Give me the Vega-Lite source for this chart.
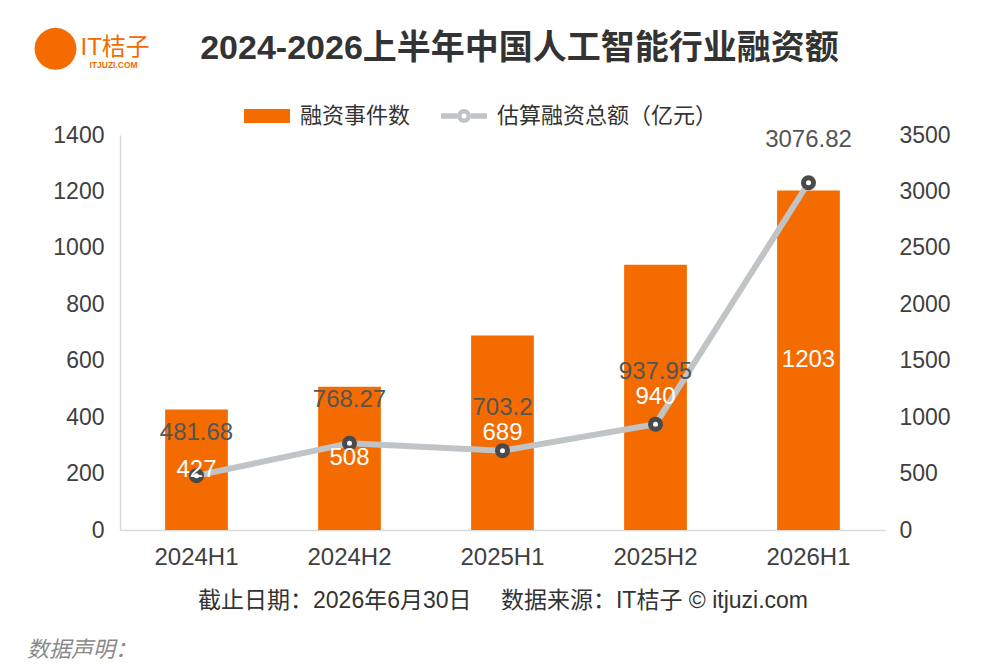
{
  "$schema": "https://vega.github.io/schema/vega-lite/v6.json",
  "autosize": "none",
  "width": 765,
  "height": 395,
  "padding": {"left": 120, "top": 135, "right": 122, "bottom": 137},
  "background": "white",
  "config": {
    "font": "Liberation Sans, Noto Sans CJK SC",
    "view": {"stroke": null},
    "axis": {
      "grid": false,
      "ticks": false,
      "domainColor": "#d9d9d9",
      "domainWidth": 1.5,
      "labelColor": "#404040",
      "labelFontSize": 23
    }
  },
  "title": {
    "text": "数据声明：",
    "orient": "bottom",
    "anchor": "start",
    "frame": "group",
    "dx": -93,
    "offset": 28,
    "fontSize": 22,
    "fontWeight": "normal",
    "fontStyle": "italic",
    "color": "#8a8a8a"
  },
  "data": {
    "values": [
      {"period": "2024H1", "count": 427, "amount": 481.68},
      {"period": "2024H2", "count": 508, "amount": 768.27},
      {"period": "2025H1", "count": 689, "amount": 703.2},
      {"period": "2025H2", "count": 940, "amount": 937.95},
      {"period": "2026H1", "count": 1203, "amount": 3076.82}
    ]
  },
  "encoding": {
    "x": {
      "field": "period",
      "type": "ordinal",
      "sort": null,
      "scale": {"paddingInner": 0.59, "paddingOuter": 0.295},
      "axis": {
        "title": "截止日期：2026年6月30日\u3000\u00a0数据来源：IT桔子 © itjuzi.com",
        "labelAngle": 0,
        "labelFontSize": 24,
        "labelPadding": 15,
        "titlePadding": 20,
        "titleFontSize": 23,
        "titleFontWeight": "normal",
        "titleColor": "#333333"
      }
    }
  },
  "layer": [
    {
      "mark": {"type": "bar", "color": "#f46b00"},
      "encoding": {
        "y": {
          "field": "count",
          "type": "quantitative",
          "scale": {"domain": [0, 1400]},
          "axis": {
            "orient": "left",
            "format": "d",
            "values": [0, 200, 400, 600, 800, 1000, 1200, 1400],
            "labelPadding": 16,
            "title": "IT桔子",
            "titleAngle": 0,
            "titleX": -40,
            "titleY": -88,
            "titleAlign": "left",
            "titleBaseline": "middle",
            "titleFontSize": 24,
            "titleFontWeight": "normal",
            "titleColor": "#f46b00"
          }
        },
        "color": {
          "datum": "融资事件数",
          "type": "nominal",
          "scale": {
            "domain": ["融资事件数", "估算融资总额（亿元）"],
            "range": ["#f46b00", "#c0c4c6"]
          },
          "legend": {
            "orient": "none",
            "legendX": 124,
            "legendY": -42,
            "direction": "horizontal",
            "title": null,
            "labelFontSize": 22,
            "labelColor": "#333333",
            "labelLimit": 0,
            "symbolSize": 2116,
            "labelOffset": 10,
            "columnPadding": 30,
            "symbolType": "M-1,-0.3H1V0.3H-1Z",
            "encode": {
              "symbols": {
                "update": {
                  "shape": {"signal": "datum.value === '融资事件数' ? 'M-1,-0.3H1V0.3H-1Z' : 'M-1,-0.12H-0.3V0.12H-1Z M0.3,-0.12H1V0.12H0.3Z M0.3,0A0.3,0.3 0 1,0 -0.3,0A0.3,0.3 0 1,0 0.3,0Z M0.11,0A0.11,0.11 0 1,1 -0.11,0A0.11,0.11 0 1,1 0.11,0Z'"},
                  "fill": {"signal": "datum.value === '融资事件数' ? '#f46b00' : '#8c9092'"},
                  "fillOpacity": {"value": 1},
                  "strokeWidth": {"value": 0}
                }
              }
            }
          }
        }
      }
    },
    {
      "encoding": {
        "y": {
          "field": "amount",
          "type": "quantitative",
          "scale": {"domain": [0, 3500]},
          "axis": {
            "orient": "right",
            "domain": false,
            "format": "d",
            "values": [0, 500, 1000, 1500, 2000, 2500, 3000, 3500],
            "labelPadding": 14,
            "title": "2024-2026上半年中国人工智能行业融资额",
            "titleAngle": 0,
            "titleX": -366,
            "titleY": -87,
            "titleAlign": "center",
            "titleBaseline": "middle",
            "titleFontSize": 34,
            "titleFontWeight": "bold",
            "titleColor": "#333333"
          }
        }
      },
      "layer": [
        {
          "mark": {"type": "line", "strokeWidth": 6, "strokeCap": "round"},
          "encoding": {
            "color": {"datum": "估算融资总额（亿元）", "type": "nominal"}
          }
        },
        {
          "mark": {"type": "point", "shape": "circle", "filled": true, "size": 225, "color": "#4a4a4a", "opacity": 1}
        },
        {
          "transform": [{"filter": "datum.period !== '2025H2'"}],
          "mark": {"type": "text", "dy": -43, "fontSize": 24, "color": "#555555"},
          "encoding": {"text": {"field": "amount", "type": "nominal"}}
        },
        {
          "transform": [{"filter": "datum.period === '2025H2'"}],
          "mark": {"type": "text", "dy": -52, "fontSize": 24, "color": "#555555"},
          "encoding": {"text": {"field": "amount", "type": "nominal"}}
        }
      ]
    },
    {
      "mark": {"type": "point", "shape": "circle", "filled": true, "size": 25, "color": "white", "opacity": 1},
      "encoding": {
        "y": {
          "field": "amount",
          "type": "quantitative",
          "scale": {"domain": [0, 3500]},
          "axis": {
            "orient": "left",
            "labels": false,
            "domain": false,
            "title": "●",
            "titleFont": "DejaVu Sans",
            "titleAngle": 0,
            "titleX": -65,
            "titleY": -90,
            "titleAlign": "center",
            "titleBaseline": "middle",
            "titleFontSize": 55,
            "titleFontWeight": "normal",
            "titleColor": "#f46b00"
          }
        }
      }
    },
    {
      "mark": {"type": "text", "fontSize": 24, "color": "white"},
      "encoding": {
        "y": {
          "field": "count",
          "type": "quantitative",
          "scale": {"domain": [0, 2800]},
          "axis": {
            "orient": "left",
            "labels": false,
            "domain": false,
            "title": "ITJUZI.COM",
            "titleAngle": 0,
            "titleX": -31,
            "titleY": -71,
            "titleAlign": "left",
            "titleBaseline": "middle",
            "titleFontSize": 8.5,
            "titleFontWeight": "bold",
            "titleColor": "#f46b00"
          }
        },
        "text": {"field": "count", "type": "nominal"}
      }
    }
  ],
  "resolve": {"scale": {"y": "independent"}}
}
